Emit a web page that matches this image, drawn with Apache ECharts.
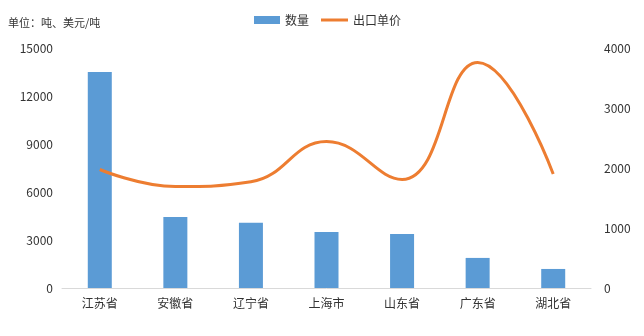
<!DOCTYPE html>
<html>
<head>
<meta charset="utf-8">
<script src="https://cdn.jsdelivr.net/npm/echarts@6/dist/echarts.min.js"></script>
<style>
  html, body { margin: 0; padding: 0; background: #fff; }
  #chart { width: 644px; height: 336px; }
</style>
</head>
<body>
<div id="chart"></div>
<script>
// Provinces on the category axis
const provinces = ['江苏省', '安徽省', '辽宁省', '上海市', '山东省', '广东省', '湖北省'];
// Export volume (tonnes)
const quantity = [13500, 4440, 4080, 3500, 3380, 1880, 1190];
// Export unit price (USD per tonne)
const unitPrice = [1975, 1690, 1770, 2440, 1810, 3760, 1900];
// Axis ranges
const leftTicks = { min: 0, max: 15000, interval: 3000 };
const rightTicks = { min: 0, max: 4000, interval: 1000 };

const FONT = '"Noto Sans CJK SC", "Noto Sans", sans-serif';
const chart = echarts.init(document.getElementById('chart'));

const legendText = { fontSize: 12, color: '#333', fontFamily: FONT };
const plainNumber = v => String(v);

chart.setOption({
  animation: false,
  textStyle: { fontFamily: FONT },
  graphic: [{
    type: 'text',
    left: 8,
    top: 17,
    style: { text: '单位：吨、美元/吨', fontSize: 11, fill: '#333', fontFamily: FONT }
  }],
  legend: [
    {
      top: 9,
      left: 249,
      itemWidth: 26,
      itemHeight: 8,
      icon: 'rect',
      textStyle: legendText,
      data: ['数量']
    },
    {
      top: 9,
      left: 316,
      itemWidth: 27,
      itemHeight: 3,
      icon: 'rect',
      textStyle: legendText,
      data: ['出口单价']
    }
  ],
  grid: { left: 62, right: 53, top: 48, bottom: 48, containLabel: false },
  xAxis: {
    type: 'category',
    data: provinces,
    axisLine: { lineStyle: { color: '#d9d9d9', width: 1 } },
    axisTick: { show: false },
    axisLabel: { color: '#333', fontSize: 12, margin: 9 }
  },
  yAxis: [
    {
      type: 'value',
      min: leftTicks.min, max: leftTicks.max, interval: leftTicks.interval,
      splitLine: { show: false },
      axisLine: { show: false },
      axisTick: { show: false },
      axisLabel: { color: '#333', fontSize: 12, margin: 9, formatter: plainNumber }
    },
    {
      type: 'value',
      min: rightTicks.min, max: rightTicks.max, interval: rightTicks.interval,
      splitLine: { show: false },
      axisLine: { show: false },
      axisTick: { show: false },
      axisLabel: { color: '#333', fontSize: 12, margin: 13, formatter: plainNumber }
    }
  ],
  series: [
    {
      name: '数量',
      type: 'bar',
      data: quantity,
      barWidth: 24,
      itemStyle: { color: '#5b9bd5' }
    },
    {
      name: '出口单价',
      type: 'line',
      yAxisIndex: 1,
      data: unitPrice,
      smooth: 0.45,
      symbol: 'none',
      lineStyle: { color: '#ed7d31', width: 3 },
      itemStyle: { color: '#ed7d31' }
    }
  ]
});
</script>
</body>
</html>
